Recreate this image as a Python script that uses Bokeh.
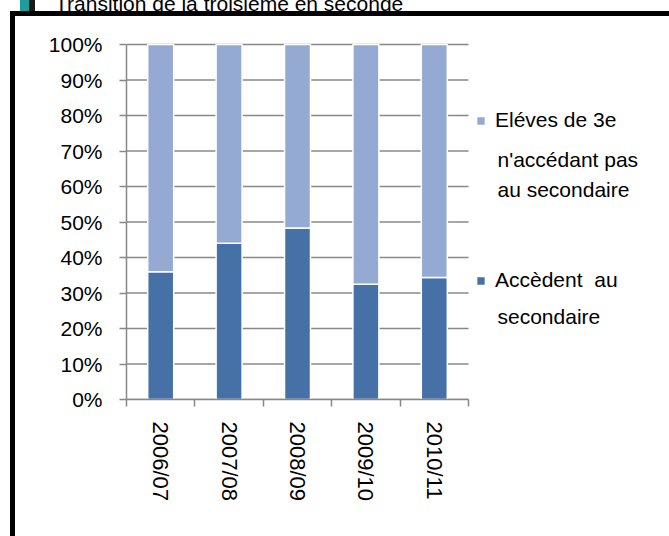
import math
from bokeh.plotting import figure
from bokeh.layouts import column
from bokeh.models import (Range1d, FixedTicker, NumeralTickFormatter, LinearAxis,
                          Legend, LegendItem, Label, ColumnDataSource, Div)
from bokeh.embed import file_html
from bokeh.resources import INLINE

# ---- data ----
years = ["2006/07", "2007/08", "2008/09", "2009/10", "2010/11"]
accedent = [0.36, 0.44, 0.483, 0.325, 0.344]
non_accedent = [0.64, 0.56, 0.517, 0.675, 0.656]
y_ticks = [0.0, 0.1, 0.2, 0.3, 0.4, 0.5, 0.6, 0.7, 0.8, 0.9, 1.0]
title_text = "Transition de la troisième en seconde"
legend_non = ["Eléves de 3e", "n'accédant pas", "au secondaire"]
legend_acc = ["Accèdent  au", "secondaire"]

dark = "#4571A7"
light = "#95AAD3"
grey = "#888888"
FONT = "Liberation Sans"

W, H = 669, 536
FRAME_LEFT, FRAME_BOTTOM = 126, 399
PX_X = 342 / len(years)      # pixels per category
PX_Y = 355                   # pixels per 100 %

xs = list(range(1, len(years) + 1))
x_lo, x_hi = 0.5, len(years) + 0.5
source = ColumnDataSource(data=dict(x=xs, acc=accedent, non=non_accedent))
grid_src = ColumnDataSource(data=dict(y=y_ticks, x0=[x_lo] * len(y_ticks), x1=[x_hi] * len(y_ticks)))

border_bg = ("linear-gradient(#000,#000) 10px 11px / 5px 100% no-repeat, "
             "linear-gradient(#000,#000) 10px 11px / 100% 5px no-repeat, #ffffff")

p = figure(width=W, height=H,
           x_range=Range1d(x_lo, x_lo + (W - FRAME_LEFT) / PX_X),
           y_range=Range1d(0, FRAME_BOTTOM / PX_Y),
           output_backend="svg", toolbar_location=None,
           x_axis_type=None, y_axis_type=None,
           min_border_left=FRAME_LEFT, min_border_right=0,
           min_border_top=0, min_border_bottom=H - FRAME_BOTTOM)
p.styles = {"background": border_bg}
p.border_fill_color = None
p.background_fill_color = None
p.outline_line_color = None

# y axis
yaxis = LinearAxis(ticker=FixedTicker(ticks=y_ticks),
                   formatter=NumeralTickFormatter(format="0%"), bounds=(0, 1))
yaxis.axis_line_color = grey
yaxis.axis_line_width = 1.5
yaxis.major_tick_line_color = grey
yaxis.major_tick_line_width = 1.5
yaxis.major_tick_out = 7
yaxis.major_tick_in = 0
yaxis.minor_tick_line_color = None
yaxis.major_label_text_font = FONT
yaxis.major_label_text_font_size = "21px"
yaxis.major_label_text_color = "black"
yaxis.major_label_standoff = 17
p.add_layout(yaxis, "left")

# x axis (ticks on category boundaries, labels at centres)
xaxis = LinearAxis(ticker=FixedTicker(ticks=xs, minor_ticks=[x - 0.5 for x in xs] + [x_hi]),
                   major_label_overrides={x: y for x, y in zip(xs, years)},
                   bounds=(x_lo, x_hi))
xaxis.axis_line_color = grey
xaxis.axis_line_width = 1.5
xaxis.major_tick_line_color = None
xaxis.major_tick_out = 0
xaxis.major_tick_in = 0
xaxis.minor_tick_line_color = grey
xaxis.minor_tick_line_width = 1.5
xaxis.minor_tick_out = 7
xaxis.minor_tick_in = 0
xaxis.major_label_orientation = -math.pi / 2
xaxis.major_label_text_font = FONT
xaxis.major_label_text_font_size = "22px"
xaxis.major_label_text_color = "black"
xaxis.major_label_standoff = 15
p.add_layout(xaxis, "below")

# horizontal gridlines limited to the plot area
p.segment(x0="x0", x1="x1", y0="y", y1="y", source=grid_src,
          line_color=grey, line_width=1.5)

renderers = p.vbar_stack(["acc", "non"], x="x", width=0.38, color=[dark, light],
                         line_color="white", line_width=1.5, source=source)
r_acc, r_non = renderers

legend = Legend(items=[LegendItem(label=legend_non[0], renderers=[r_non]),
                       LegendItem(label=legend_acc[0], renderers=[r_acc])],
                location=(349, 106.7), orientation="vertical",
                glyph_width=11, glyph_height=11, label_standoff=9,
                label_height=24, spacing=136, padding=0, margin=0,
                border_line_color=None, background_fill_alpha=0,
                label_text_font=FONT, label_text_font_size="21px",
                label_text_color="black")
p.add_layout(legend)

def dx(page_x):
    return x_lo + (page_x - FRAME_LEFT) / PX_X
def dy(page_y):
    return (FRAME_BOTTOM - page_y) / PX_Y

for txt, base in [(legend_non[1], 159.3), (legend_non[2], 189.3), (legend_acc[1], 316)]:
    p.add_layout(Label(x=dx(497), y=dy(base), text=txt, text_font=FONT,
                       text_font_size="21px", text_color="black",
                       text_align="left", text_baseline="alphabetic"))

# page title, mostly above the visible area as in the original document
icon = ('<span style="display:inline-block;width:15px;height:14px;margin-right:20px;'
        'background:linear-gradient(to right,#1f9c9c 60%,#1a1a1a 60%)"></span>')
title_div = Div(text=icon + title_text,
                styles={"position": "absolute", "top": "-13px", "left": "15px",
                        "font-family": FONT, "font-size": "21px", "line-height": "24px",
                        "white-space": "nowrap", "color": "black", "z-index": "5"})

layout = column(title_div, p)
open("out.html", "w").write(file_html(layout, INLINE))
